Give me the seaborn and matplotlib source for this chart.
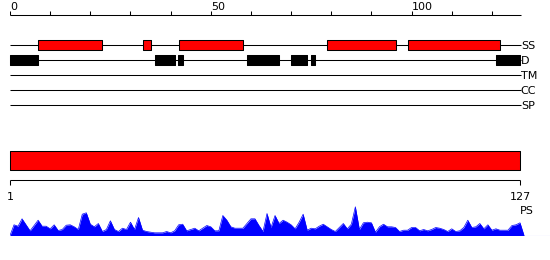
import matplotlib
matplotlib.use("Agg")
import matplotlib.pyplot as plt
import seaborn as sns
import numpy as np
import pandas as pd

sns.set_theme(style="white")
plt.rcParams['font.family'] = ['DejaVu Sans']

# ---------------- data ----------------
seq_len = 127
track_names = ["SS", "D", "TM", "CC", "SP"]
ss_helices = [(7, 23), (33, 35), (42, 58), (79, 96), (99, 122)]
disorder = [(0, 7), (36, 41), (41.8, 43), (59, 67), (70, 74), (75, 76), (121, 127)]
domain = (1, 127)
top_ticks_major = [0, 50, 100]
top_ticks_minor = list(range(0, 121, 10))
bottom_ticks = [1, 127]
ps_values = [
    0, 10.7, 9.3, 16.7, 10.7, 4.7, 10, 15.3, 9.3, 9.3,
    6.7, 10.7, 5, 6, 10.3, 10.7, 8.7, 6, 21.3, 22.7,
    11.3, 8.7, 12, 4, 6, 14.7, 6, 4, 7.3, 6,
    13.3, 6, 18, 5.3, 4, 3.3, 2.7, 2.7, 2.7, 4,
    2.7, 4.7, 10.7, 11.3, 4.7, 6, 7.3, 4.7, 7.3, 10,
    8.7, 4.7, 4.7, 20, 15.3, 8.7, 7.3, 7.3, 7.3, 12,
    16.7, 16.7, 10, 4, 22, 8, 20, 12, 15.3, 13.3,
    10.7, 6.7, 13.3, 21.3, 5.3, 7.3, 6.7, 9.3, 11.3, 8.7,
    6, 4, 8, 12, 6.7, 11.3, 28.7, 6, 12.7, 13.3,
    12.7, 3.3, 8.7, 11.3, 8.7, 8.7, 8, 4, 5.3, 5.3,
    8, 8, 4.7, 6, 4.7, 6, 8, 7.3, 6, 4,
    6.7, 4, 4.7, 8, 15.3, 8, 8.7, 12, 6.7, 10.7,
    5.3, 6.7, 5.3, 5.3, 5.3, 10, 10.7, 12.7, 0,
]

# ---------------- layout ----------------
W, H = 550, 260
fig = plt.figure(figsize=(W / 100, H / 100), dpi=100)
fig.patch.set_facecolor("white")


def px_axes(x0, y0, x1, y1):
    ax = fig.add_axes([x0 / W, 1 - y1 / H, (x1 - x0) / W, (y1 - y0) / H])
    ax.set_axis_off()
    return ax


LW = 0.75
FS = 8

# --- top ruler and feature tracks ---
axA = px_axes(10, 0, 520, 140)
axA.set_xlim(0, seq_len)
axA.set_ylim(140, 0)

ruler_y = 15
axA.hlines(ruler_y, 0, seq_len + 0.3, color="black", lw=LW, clip_on=False)
axA.vlines(top_ticks_minor, ruler_y - 4, ruler_y, color="black", lw=LW)
for t in top_ticks_major:
    axA.text(t + 0.1, ruler_y - 5.5, str(t), ha="left", va="baseline",
             fontsize=FS, color="black")

track_y = {name: 45 + 15 * k for k, name in enumerate(track_names)}
for name in track_names:
    y = track_y[name]
    axA.hlines(y, 0, seq_len + 0.2, color="black", lw=LW, zorder=1, clip_on=False)
    axA.text(seq_len + 0.2, y + 4.3, name, ha="left", va="baseline",
             fontsize=FS, color="black", clip_on=False)

axA.broken_barh([(s, e - s) for s, e in ss_helices],
                (track_y["SS"] - 5, 10.2),
                facecolor="#ff0000", edgecolor="black", lw=LW, zorder=2)
axA.broken_barh([(s, e - s) for s, e in disorder],
                (track_y["D"] - 5.2, 10.6),
                facecolor="black", edgecolor="black", lw=LW, zorder=2,
                clip_on=False)

# --- domain bar and bottom ruler ---
axB = px_axes(10, 140, 520, 205)
axB.set_xlim(domain[0], domain[1])
axB.set_ylim(205, 140)
axB.broken_barh([(domain[0], domain[1] - domain[0])], (150.7, 19.6),
                facecolor="#ff0000", edgecolor="black", lw=LW, clip_on=False)
axB.hlines(180.3, bottom_ticks[0], bottom_ticks[-1], color="black", lw=LW,
           clip_on=False)
axB.vlines(bottom_ticks, 180.3, 185, color="black", lw=LW, clip_on=False)
for t in bottom_ticks:
    axB.text(t, 200, str(t), ha="center", va="baseline", fontsize=FS,
             color="black")
axB.text(domain[1] + 0.05, 214, "PS", ha="left", va="baseline", fontsize=FS,
         color="black")

# --- PS profile ---
px_per_res = 510 / seq_len
axC = px_axes(10, 206, 550, 236)
axC.set_xlim(0, 540 / px_per_res)
axC.set_ylim(-0.5, 29.5)
ps_df = pd.DataFrame({"pos": np.arange(len(ps_values)), "ps": ps_values})
axC.fill_between(ps_df["pos"], 0, ps_df["ps"], color="#0000ff", lw=0)
sns.lineplot(data=ps_df, x="pos", y="ps", color="#0000ff", lw=0.5, ax=axC)
axC.axhline(0, color="#0000ff", lw=LW)
axC.set_axis_off()

fig.savefig("out.png", dpi=100, facecolor="white")
